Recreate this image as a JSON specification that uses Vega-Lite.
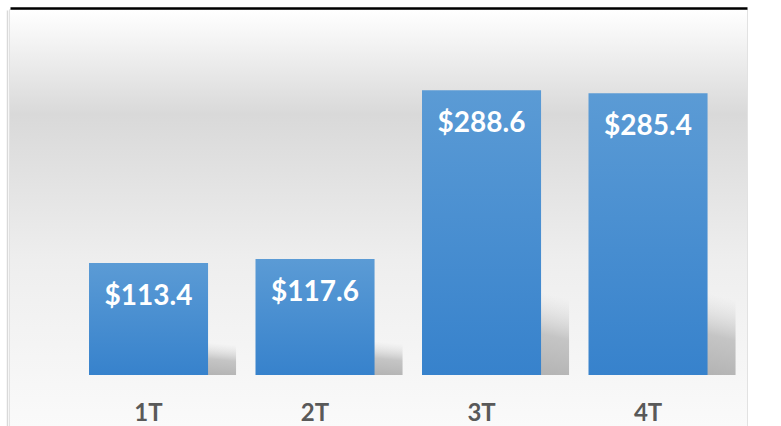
{
  "$schema": "https://vega.github.io/schema/vega-lite/v6.json",
  "autosize": {"type": "none"},
  "width": 737,
  "height": 417,
  "padding": {"left": 10, "top": 10, "right": 34, "bottom": 0},
  "background": "#ffffff",
  "config": {"view": {"stroke": "#d9d9d9", "strokeWidth": 1.5}},
  "data": {"values": [
    {"q": "1T", "value": 113.4},
    {"q": "2T", "value": 117.6},
    {"q": "3T", "value": 288.6},
    {"q": "4T", "value": 285.4}
  ]},
  "resolve": {"scale": {"y": "independent"}, "axis": {"x": "independent", "y": "independent"}},
  "layer": [
    {
      "mark": {"type": "rect", "color": {"gradient": "linear", "x1": 0, "y1": 0, "x2": 0, "y2": 1, "stops": [
        {"offset": 0, "color": "#ffffff"},
        {"offset": 0.25, "color": "#d9d9d9"},
        {"offset": 0.6, "color": "#eeeeee"},
        {"offset": 1, "color": "#fafafa"}
      ]}},
      "encoding": {}
    },
    {
      "mark": {"type": "bar", "xOffset": 28, "color": {"gradient": "linear", "x1": 0.76, "y1": 1, "x2": 1, "y2": 0.2, "stops": [
        {"offset": 0, "color": "#b3b3b3"},
        {"offset": 0.5, "color": "rgba(185,185,185,0.8)"},
        {"offset": 1, "color": "rgba(210,210,210,0)"}
      ]}},
      "encoding": {
        "x": {"field": "q", "type": "nominal", "sort": null,
          "scale": {"paddingInner": 0.285, "paddingOuter": 0.3557, "align": 0.667},
          "axis": {"orient": "top", "domain": true, "domainColor": "#000000", "domainWidth": 2.5, "ticks": false, "labels": false, "title": null, "offset": 2, "grid": false, "zindex": 1}},
        "y": {"field": "value", "type": "quantitative", "scale": {"domain": [-158, 1109], "nice": false, "zero": false}, "axis": null},
        "y2": {"datum": 0}
      }
    },
    {
      "encoding": {
        "x": {"field": "q", "type": "nominal", "sort": null,
          "axis": {"orient": "bottom", "domain": false, "ticks": false, "tickSize": 0, "labelPadding": 0, "labelBaseline": "middle", "offset": -14, "labelAngle": 0, "labelFont": "Lato", "labelFontSize": 24, "labelFontWeight": "bold", "labelColor": "#595959", "title": null, "grid": false, "zindex": 1}},
        "y": {"field": "value", "type": "quantitative", "scale": {"domain": [-52.7, 369.8], "nice": false, "zero": false},
          "axis": {"orient": "left", "domain": true, "domainColor": "#d9d9d9", "domainWidth": 1.5, "ticks": false, "labels": false, "grid": false, "title": null, "offset": 3, "zindex": 1}}
      },
      "layer": [
        {
          "mark": {"type": "bar", "color": {"gradient": "linear", "x1": 0, "y1": 0, "x2": 0, "y2": 1, "stops": [
            {"offset": 0, "color": "#5b9bd5"},
            {"offset": 1, "color": "#3782cc"}
          ]}},
          "encoding": {"y2": {"datum": 0}}
        },
        {
          "mark": {"type": "text", "dy": 34, "baseline": "middle", "align": "center", "font": "Lato", "fontSize": 28, "fontWeight": "bold", "color": "#ffffff"},
          "encoding": {
            "text": {"field": "value", "type": "quantitative", "format": "$.1f"}
          }
        }
      ]
    }
  ]
}
